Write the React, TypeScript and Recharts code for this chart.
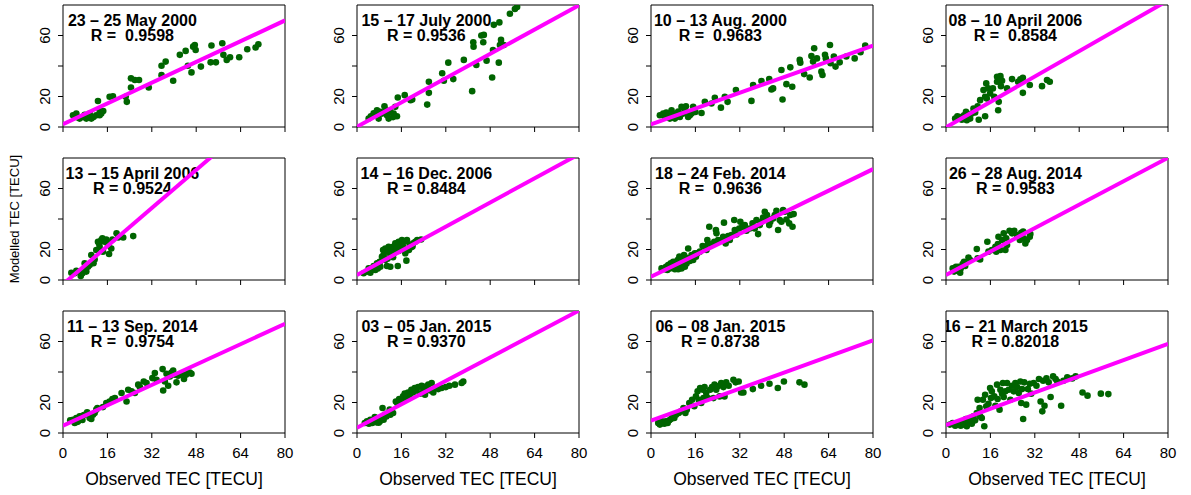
import { ComposedChart, Scatter, Line, XAxis, YAxis, ReferenceArea } from "recharts";

type Pt = [number, number];

const X_TICKS = [0, 16, 32, 48, 64, 80];
const Y_TICKS = [0, 20, 40, 60];
const Y_LABELLED = [0, 20, 60];

const TITLES = [
  "23 – 25 May 2000",
  "15 – 17 July 2000",
  "10 – 13 Aug. 2000",
  "08 – 10 April 2006",
  "13 – 15 April 2006",
  "14 – 16 Dec. 2006",
  "18 – 24 Feb. 2014",
  "26 – 28 Aug. 2014",
  "11 – 13 Sep. 2014",
  "03 – 05 Jan. 2015",
  "06 – 08 Jan. 2015",
  "16 – 21 March 2015",
];

const R_TEXT = [
  "R =  0.9598",
  "R = 0.9536",
  "R =  0.9683",
  "R =  0.8584",
  "R = 0.9524",
  "R = 0.8484",
  "R =  0.9636",
  "R = 0.9583",
  "R =  0.9754",
  "R = 0.9370",
  "R = 0.8738",
  "R = 0.82018",
];

// fitted line y = a + b*x for each panel
const FIT_INTERCEPT = [1.8, 0.2, 1.8, -0.2, -2.8, 3.3, 2.2, 3.3, 4.8, 3.5, 8.1, 5.2];
const FIT_SLOPE = [0.851, 0.995, 0.645, 1.04, 1.5625, 0.99, 0.881, 0.96, 0.835, 0.96, 0.657, 0.666];

const MAY_2000: Pt[] = [
  [3.6, 7.7], [4.8, 8.8], [6, 5.5], [7.2, 6.6], [8.4, 5.5], [9.6, 8.8], [10.2, 5.5], [12, 7.7],
  [12.6, 17], [13.2, 11], [13.8, 8.8], [13.2, 7.7], [16.8, 19.8], [18, 20.2], [22.6, 19.8], [23, 16.5],
  [24.5, 31.9], [25.9, 30.8], [27.4, 30.8], [24.5, 25.9], [30.9, 25.9], [35.5, 34], [35.5, 40.2], [37, 42.9],
  [39.7, 30.3], [42.1, 47.3], [44.2, 49.9], [45, 40.2], [46.3, 35.8], [46.9, 52.7], [47.5, 53.8], [47.8, 50.5],
  [49.7, 39.6], [53.5, 53.4], [53.2, 42.4], [55.1, 42.4], [57.4, 54.9], [57.8, 47.3], [59, 44], [60.2, 45.7],
  [63.5, 45.7], [66.4, 51], [69.4, 52.1], [70.4, 54.3], [5.4, 6.2], [7.8, 8], [11, 6.5], [14.5, 10.5],
];

const JUL_2000: Pt[] = [
  [4.2, 5.5], [5, 7], [6.6, 7.7], [7.2, 11], [7.8, 5.5], [9, 8.8], [9.9, 13.6], [10.8, 7.7],
  [11.4, 5.5], [12, 9.9], [13.2, 8.8], [13.8, 13.2], [14.4, 7], [14.7, 19.3], [17.2, 20.9], [19.3, 17.6],
  [19.9, 18], [25.3, 14.7], [25.9, 29.7], [25.9, 22.4], [30.7, 35.2], [31.3, 30.3], [32.9, 42.2], [34.7, 31.4],
  [38.5, 44], [41.5, 23.5], [41.9, 55.6], [42, 52.7], [43, 40.7], [44.8, 60], [45.5, 55.6], [45.7, 60.4],
  [46.7, 43.5], [48.7, 32.5], [49, 50.5], [49.3, 67], [51.1, 42.2], [51.3, 68.6], [51.9, 57.1], [52.9, 53.8],
  [51.5, 53.8], [55.1, 74.3], [56.9, 77.4], [57.7, 78.7], [6, 9], [8.5, 10], [10.5, 11], [13, 6.5],
];

const AUG_2000: Pt[] = [
  [3.2, 7.7], [4.4, 8.8], [5, 6.6], [6.2, 7.7], [6.8, 5.5], [7.4, 11], [8, 7.7], [8.6, 5.5],
  [9.2, 8.8], [10.4, 6.6], [11.6, 8.8], [11, 13.2], [12.6, 13.6], [13.4, 6.6], [14, 7.7], [14.6, 8.8],
  [15.2, 13.2], [18.2, 9.2], [19.4, 16.5], [21.8, 15.4], [23, 19.1], [25.2, 12.7], [26.6, 19.8], [27.6, 16.5],
  [30.6, 24.2], [36.2, 17.1], [36.8, 27.5], [39.8, 30.1], [42.6, 31.4], [43.4, 24.6], [44, 25.3], [47, 37.4],
  [47.4, 18], [48.8, 28.1], [50.2, 39.1], [50.9, 26.4], [53.6, 44], [53.8, 42.2], [55.2, 34.7], [57.2, 32.5],
  [57.8, 46.6], [58.4, 42.9], [58.8, 51.6], [59.8, 45], [61.4, 36.3], [61.8, 34.1], [62.7, 47.3], [63, 45],
  [64.5, 53.8], [64.7, 41.8], [65.9, 46.2], [66.5, 39.6], [68, 42.4], [70.4, 46.2], [73.4, 45], [75.5, 49],
  [77.2, 53.4], [5.5, 9.5], [9.8, 10.2], [12.2, 10.5], [16, 9.8],
];

const APR_2006A: Pt[] = [
  [3.3, 5.5], [4.1, 7], [5.1, 6.6], [5.7, 4.8], [6.5, 7.7], [7.2, 9.9], [7.5, 4.4], [8.1, 6.6],
  [8.7, 5.5], [9.3, 8.8], [9.9, 12.1], [11.4, 13.6], [11.8, 4.8], [12.3, 17.6], [14.1, 7], [13.5, 24.2],
  [14.5, 28.6], [14.1, 19.8], [14.7, 18.7], [15.2, 25.3], [15.9, 22], [16.9, 25.3], [17.4, 19.8], [18.4, 29.7],
  [18.4, 33], [19, 16.5], [18.8, 11], [19.6, 33.4], [19.8, 26.8], [20.2, 30.3], [22, 25.3], [23.8, 31.4],
  [26, 29.7], [26.8, 31.2], [27.7, 32.3], [27.7, 22.4], [30.2, 27.5], [34.6, 26.8], [36.4, 30.8], [37.4, 29.7],
  [6, 5.8], [8, 8.5], [10.5, 9.5], [19.5, 32.5],
];

const APR_2006B: Pt[] = [
  [3, 4.8], [4.2, 4.4], [4.8, 6.1], [5.8, 5.5], [6.4, 2.6], [7, 4.4], [7.8, 10.9], [8.4, 5.5],
  [9, 8.7], [9.6, 9.8], [10.2, 16.4], [11.4, 13.5], [12, 19.7], [12.6, 25.1], [13.2, 21.8], [13.8, 26.2],
  [14.2, 27.3], [14.4, 18.6], [15, 25.1], [15.6, 26.6], [16.2, 22.9], [16.6, 17], [17.4, 20.7], [17.8, 26.6],
  [19.3, 30.6], [19.9, 27.9], [21.7, 27.9], [25.3, 28.8], [8, 7], [11, 11], [13, 24], [16.5, 24],
];

const DEC_2006: Pt[] = [
  [2.4, 4.4], [3.6, 5.5], [4.2, 7.6], [4.8, 4.8], [5.4, 7.6], [6, 9.2], [6.6, 6.6], [7.2, 10.9],
  [7.5, 7.6], [8.2, 12], [8.4, 8.7], [9, 15.3], [9.4, 19.7], [9.6, 16.4], [10.2, 20.7], [10.2, 13.1],
  [10.8, 9.2], [11.1, 18.6], [11.4, 21.8], [12, 17.5], [12, 8.7], [12.6, 19.7], [13, 21.8], [13.5, 17.9],
  [13.8, 24], [14.4, 20.7], [14.7, 9.2], [15, 25.1], [15.6, 22.9], [16.2, 26.2], [16.6, 21.8], [17.1, 25.1],
  [17.4, 17.5], [17.8, 12.7], [18, 26.2], [18.7, 19.7], [19, 22.9], [19.5, 21.4], [20.2, 24], [21, 25.1],
  [21.7, 26.2], [23.1, 26.6], [5, 6], [8, 10], [11, 14], [13, 15], [15, 19], [20, 22],
];

const FEB_2014: Pt[] = [
  [3.8, 7.6], [4.7, 7], [5.4, 8.7], [5.9, 6.6], [6.2, 9.8], [6.8, 7.6], [7.1, 10.9], [7.8, 9.2],
  [8, 12], [8.6, 7], [9, 10.5], [9.2, 8.7], [9.6, 13.1], [9.8, 7], [10.2, 15.3], [10.4, 10.9],
  [11, 7.6], [11, 14.2], [11.6, 12], [11.9, 16.4], [12.2, 8.7], [12.6, 14.8], [12.8, 10.9], [13.4, 20.7],
  [13.8, 14.2], [14.6, 16.4], [15.2, 13.1], [15.8, 17.5], [16.7, 17.5], [17.6, 18.6], [18.6, 22.3], [19.4, 21.8],
  [20, 19.7], [20.3, 26.2], [20.6, 24], [21, 34.9], [21.8, 22.9], [22.8, 25.1], [23.4, 32.8], [23.6, 30.6],
  [24.2, 26.2], [25.4, 26.2], [26.3, 37.6], [26, 28.4], [26.9, 24], [27.8, 28.8], [28.4, 26.2], [29, 29.5],
  [30, 39.3], [30.2, 32.8], [30.8, 29.9], [31.8, 33.8], [32.2, 38.2], [32.9, 34.9], [33.8, 36], [34.4, 32.3],
  [35.6, 33.8], [36.6, 37.1], [37.4, 33.8], [38, 39.3], [38.6, 30.1], [39.2, 36], [39.8, 38.2], [40.4, 41],
  [41, 44.8], [41.4, 39.3], [41.8, 42.6], [42.6, 36], [43, 38.2], [44, 40.4], [44.6, 42.6], [45.2, 45.4],
  [45.8, 32.8], [46.4, 39.3], [47, 38.2], [47.6, 45.9], [48.2, 44.8], [48.8, 39.7], [49.8, 37.1], [50.2, 42.6],
  [51, 34.9], [51.4, 43.2], [7.4, 8.2], [10.8, 9.5], [14, 12.5], [16.2, 15.2],
];

const AUG_2014: Pt[] = [
  [2.4, 7.6], [2.9, 5.5], [3.6, 8.7], [4.1, 6.1], [4.5, 8.7], [5.1, 4.8], [5.3, 7.6], [6, 10.5],
  [6.5, 12], [6.9, 9.2], [8.1, 14.8], [8.7, 13.1], [11.1, 20.3], [11.4, 14.2], [12.3, 13.5], [14.9, 25.1],
  [15.3, 18.6], [16.5, 19.7], [17.8, 21.8], [18.1, 18.6], [18.7, 23.6], [18.9, 28.4], [19.6, 19.7], [20.2, 26.2],
  [20.8, 30.6], [21.4, 19.7], [21.7, 27.3], [22, 22.9], [22.9, 32.3], [23.8, 30.6], [24.6, 32.3], [25.6, 29.5],
  [26.6, 26.2], [27.1, 31], [27.8, 31.7], [28, 27.3], [28.6, 24], [29.2, 26.2], [30.2, 28.4], [30.4, 30.1],
];

const SEP_2014: Pt[] = [
  [2.6, 8.3], [3.6, 8.7], [4.2, 6.6], [4.8, 9.8], [5.4, 7.6], [6, 10.9], [6.6, 8.7], [7.2, 11.4],
  [7.8, 12], [8.7, 13.5], [9.6, 9.8], [10.2, 9.2], [10.8, 12], [11.4, 13.1], [12, 15.3], [12.4, 16.4],
  [14.4, 17], [15.6, 19.7], [16.8, 20.7], [17.8, 22.3], [18.7, 22.9], [21.1, 26.2], [22.9, 20.7], [23.5, 28.4],
  [24.7, 27.3], [25.9, 26.2], [27.1, 31.7], [27.7, 30.1], [29.1, 33.8], [30.1, 32.8], [32.2, 36], [33.1, 39.3],
  [33.7, 34.9], [35.9, 41.9], [36.1, 27.9], [36.7, 33.8], [37.3, 38.9], [37.9, 31], [38.5, 37.1], [39.1, 39.7],
  [39.7, 41], [40.3, 38.2], [40.9, 33.2], [41.5, 37.6], [42.7, 38.9], [43.6, 35.4], [44.3, 38.2], [45.1, 39.3],
  [45.7, 39.7], [46.3, 38.9], [5, 7.2], [6.2, 9.4], [7, 8.5],
];

const JAN_2015A: Pt[] = [
  [2.8, 6.6], [3.6, 7.6], [4.3, 6.1], [4.8, 8.7], [5.5, 6.6], [6, 8.3], [6.4, 10.5], [7, 7],
  [7.6, 8.7], [8.2, 7.6], [8.8, 9.8], [9.2, 16.4], [9.6, 8.7], [10, 12], [10.6, 10.9], [11.2, 13.1],
  [11.8, 15.3], [12.4, 14.2], [13, 13.1], [14, 20.7], [14.5, 19.7], [15.2, 22.3], [16, 20.7], [16.6, 24],
  [17.2, 25.8], [17.8, 22.9], [18.4, 26.6], [19, 25.1], [19.6, 28.4], [20.2, 26.6], [20.8, 29.5], [21.4, 27.9],
  [22, 30.1], [22.7, 25.8], [23.3, 31], [23.9, 28.4], [24.5, 25.1], [25, 30.6], [25.7, 31.7], [26.3, 27.9],
  [26.9, 32.8], [27.5, 26.6], [28.1, 29.5], [29.3, 28.8], [30.5, 29.5], [32, 30.1], [33.3, 31], [35.3, 31.7],
  [37.7, 32.8], [38.3, 33.8], [5.2, 7.4], [7.8, 6.8], [12, 12], [18, 24], [21, 28.8],
];

const JAN_2015B: Pt[] = [
  [2.6, 6.6], [3.2, 5.5], [4, 7.6], [4.8, 6.1], [5.4, 7.6], [6, 6.6], [6.6, 8.3], [7.2, 9.2],
  [7.8, 10.5], [8.4, 9.8], [9, 12], [10, 13.1], [10.8, 14.2], [11.7, 16.4], [12.4, 13.1], [12.9, 15.3],
  [13.8, 19.7], [14.8, 21.8], [15.6, 17.5], [16.2, 24], [16.8, 27.3], [17.2, 21.8], [17.7, 29.5], [18.1, 19.7],
  [18.7, 28.4], [18.9, 22.9], [19.3, 30.1], [19.9, 26.2], [20.5, 22.9], [21.3, 28.4], [22, 30.1], [22.5, 22.9],
  [22.9, 31.7], [23.5, 28.4], [24.1, 30.6], [24.7, 24], [25.3, 32.8], [26.1, 30.1], [26.5, 24], [27.1, 33.2],
  [28, 31], [29.7, 34.9], [30.5, 33.2], [31.6, 33.8], [32.5, 26.6], [33.3, 26.6], [36.7, 28.8], [39.7, 31],
  [42.7, 32.3], [45.7, 29.5], [47.9, 33.8], [53.5, 33.2], [55.3, 31.7],
];

const MAR_2015: Pt[] = [
  [1.4, 5.5], [2.4, 6.6], [3.3, 4.8], [4.1, 6.1], [4.8, 7], [5.3, 4.8], [6, 7.6], [6.5, 5.5],
  [7.2, 9.2], [7.5, 4.4], [8.1, 7], [8.7, 9.8], [9.3, 6.1], [9.9, 10.9], [10.5, 8.3], [11.1, 13.1],
  [11.4, 21.8], [12.1, 16.4], [12.3, 10.9], [12.9, 9.8], [13.3, 21.8], [13.8, 4.4], [14.1, 25.1], [14.5, 17.5],
  [15.3, 19.2], [15.9, 29.5], [16.2, 22.9], [16.5, 27.3], [17.4, 24], [17.8, 17.9], [18.4, 31.7], [18.6, 22.3],
  [19.3, 15.3], [19.6, 28.4], [20.2, 25.8], [20.5, 32.8], [20.8, 23.6], [21.4, 27.3], [22, 32.8], [22.6, 28.4],
  [23.2, 21.8], [23.8, 31], [24.4, 27.3], [25, 32.8], [25.6, 30.1], [26.2, 26.2], [26.8, 33.8], [27.1, 19.7],
  [27.4, 28.8], [27.8, 9.2], [28.2, 33.2], [28.9, 18.6], [29.5, 28.8], [30.2, 32.3], [30.7, 25.8], [31.6, 32.8],
  [32.6, 31], [33.5, 35.4], [34.1, 20.7], [34.7, 14.2], [35, 34.3], [35.5, 17.9], [36.2, 35.8], [37, 33.2],
  [37.7, 23.6], [38.6, 37.1], [39.5, 35.4], [40.1, 33.8], [41.5, 17.9], [42.3, 34.3], [43.7, 36.5], [45.5, 35.8],
  [46.7, 37.1], [49.2, 26.6], [51, 24.5], [55.8, 25.8], [58.5, 25.5], [3.8, 5.2], [5.8, 6], [9, 8],
];

const SERIES = [
  MAY_2000, JUL_2000, AUG_2000, APR_2006A,
  APR_2006B, DEC_2006, FEB_2014, AUG_2014,
  SEP_2014, JAN_2015A, JAN_2015B, MAR_2015,
];

const FONT = '"Liberation Sans", Arial, Helvetica, sans-serif';
const GREEN = "#006400";
const MAGENTA = "#ff00ff";

const COL_LEFT = [0, 294, 588, 883];
const ROW_TOP = [0, 153, 306];

const Dot = (p: any) => <circle cx={p.cx} cy={p.cy} r={3.3} fill={GREEN} />;

const PanelText = (p: any) => (
  <text
    x={p.cx}
    y={p.cy}
    dy="0.35em"
    textAnchor="middle"
    fontFamily={FONT}
    fontWeight="bold"
    fontSize={16}
    fill="#000"
    style={{ whiteSpace: "pre" }}
  >
    {p.payload.text}
  </text>
);

const YTick = (p: any) => {
  const v = p.payload.value;
  if (!Y_LABELLED.includes(v)) return <g />;
  return (
    <text
      x={p.x}
      y={p.y}
      transform={`rotate(-90 ${p.x} ${p.y})`}
      textAnchor="middle"
      fontFamily={FONT}
      fontSize={15}
      fill="#000"
    >
      {v}
    </text>
  );
};

const makeXTick = (show: boolean) => (p: any) =>
  show ? (
    <text x={p.x} y={p.y} dy="0.71em" textAnchor="middle" fontFamily={FONT} fontSize={15} fill="#000">
      {p.payload.value}
    </text>
  ) : (
    <g />
  );

const ModelledLabel = (p: any) => {
  const vb = p.viewBox;
  const x = vb.x - 4;
  const y = vb.y + vb.height / 2;
  return (
    <text x={x} y={y} transform={`rotate(-90 ${x} ${y})`} textAnchor="middle" fontFamily={FONT} fontSize={13} fill="#000">
      Modelled TEC [TECU]
    </text>
  );
};

function Panel({ idx }: { idx: number }) {
  const row = Math.floor(idx / 4);
  const col = idx % 4;
  const bottomRow = row === 2;
  const height = bottomRow ? 187 : 153;
  const axisH = bottomRow ? 60 : 20;
  const points = SERIES[idx].map(([x, y]) => ({ x, y }));
  const a = FIT_INTERCEPT[idx];
  const b = FIT_SLOPE[idx];
  const fit = [
    { x: 0, y: a },
    { x: 80, y: a + 80 * b },
  ];
  const labels = [
    { x: 25, y: 70, text: TITLES[idx] },
    { x: 25, y: 60, text: R_TEXT[idx] },
  ];

  return (
    <div style={{ position: "absolute", left: COL_LEFT[col], top: ROW_TOP[row] }}>
      <ComposedChart
        width={294}
        height={height}
        margin={{ top: 5, right: 9, left: 23, bottom: height - 5 - 122 - axisH }}
      >
        <XAxis
          type="number"
          dataKey="x"
          domain={[0, 80]}
          allowDataOverflow
          ticks={X_TICKS}
          interval={0}
          height={axisH}
          tickSize={5}
          tickMargin={9}
          axisLine={false}
          stroke="#000"
          tick={makeXTick(bottomRow)}
          label={
            bottomRow
              ? { value: "Observed TEC [TECU]", position: "insideBottom", offset: 8, fontSize: 17.5, fill: "#000", fontFamily: FONT }
              : undefined
          }
        />
        <YAxis
          type="number"
          dataKey="y"
          domain={[0, 80]}
          allowDataOverflow
          ticks={Y_TICKS}
          interval={0}
          width={40}
          tickSize={5}
          tickMargin={8}
          axisLine={false}
          stroke="#000"
          tick={YTick}
          label={idx === 4 ? ModelledLabel : undefined}
        />
        <ReferenceArea x1={0} x2={80} y1={0} y2={80} fill="none" stroke="#000" strokeWidth={1} />
        <Scatter data={points} dataKey="y" shape={Dot} isAnimationActive={false} />
        <Scatter data={labels} dataKey="y" shape={PanelText} isAnimationActive={false} />
        <Line
          data={fit}
          dataKey="y"
          type="linear"
          stroke={MAGENTA}
          strokeWidth={4}
          dot={false}
          activeDot={false}
          isAnimationActive={false}
          zIndex={700}
        />
      </ComposedChart>
    </div>
  );
}

export default function App() {
  return (
    <div
      style={{
        position: "absolute",
        left: 0,
        top: 0,
        width: 1191,
        height: 495,
        background: "#fff",
        overflow: "hidden",
      }}
    >
      {SERIES.map((_, i) => (
        <Panel key={i} idx={i} />
      ))}
    </div>
  );
}
